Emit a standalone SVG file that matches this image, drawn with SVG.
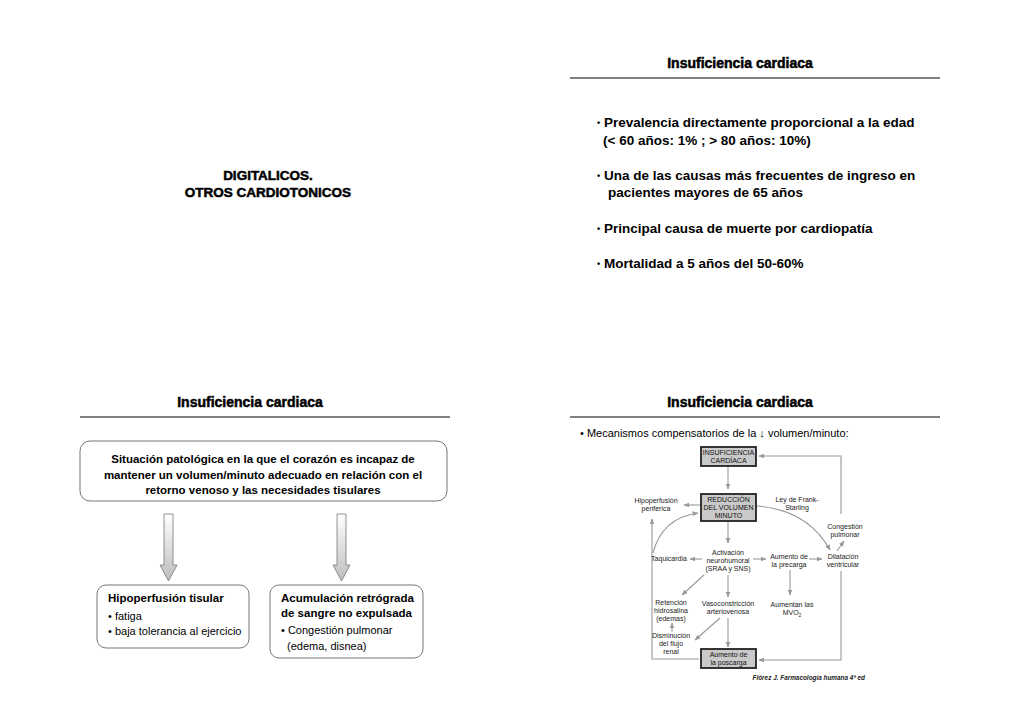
<svg xmlns="http://www.w3.org/2000/svg" width="1024" height="724" viewBox="0 0 1024 724">
<defs>
<style>
.hdr{font-family:"Liberation Sans",Arial,sans-serif;font-weight:bold;font-size:14px;fill:#000;stroke:#000;stroke-width:0.5;text-anchor:middle}
.rule{stroke:#000;stroke-width:1.2}
.bul{font-family:"Liberation Sans",Arial,sans-serif;font-weight:bold;font-size:13.5px;fill:#000}
.dot{font-size:9px}
.bx{font-family:"Liberation Sans",Arial,sans-serif;font-weight:bold;font-size:11.5px;fill:#000}
.bn{font-family:"Liberation Sans",Arial,sans-serif;font-size:11px;fill:#000}
.box{fill:#fff;stroke:#777;stroke-width:1}
.d{font-family:"Liberation Sans",Arial,sans-serif;font-size:7px;fill:#222;text-anchor:middle}
.db{font-family:"Liberation Sans",Arial,sans-serif;font-size:7px;fill:#111;text-anchor:middle}
.gbox{fill:#c9c9c9;stroke:#222;stroke-width:1.8}
.ln{fill:none;stroke:#999;stroke-width:1.1;marker-end:url(#ah)}
</style>
<marker id="ah" viewBox="0 0 10 10" refX="9" refY="5" markerWidth="6" markerHeight="6" orient="auto" markerUnits="userSpaceOnUse">
<path d="M0,1 L10,5 L0,9 Z" fill="#999"/>
</marker>
<linearGradient id="ag" x1="0" y1="0" x2="0" y2="1">
<stop offset="0" stop-color="#ffffff"/>
<stop offset="1" stop-color="#bdbdbd"/>
</linearGradient>
</defs>
<rect width="1024" height="724" fill="#fff"/>

<g id="title-slide">
<text class="hdr" x="268" y="180" style="font-size:13.5px">DIGITALICOS.</text>
<text class="hdr" x="268" y="197" style="font-size:13.5px">OTROS CARDIOTONICOS</text>
</g>

<g id="slide2">
<text class="hdr" x="740" y="68">Insuficiencia cardiaca</text>
<line class="rule" x1="570" y1="78" x2="940" y2="78"/>
<text class="bul" x="597" y="127"><tspan class="dot" dy="-1">•</tspan><tspan dy="1"> Prevalencia directamente proporcional a la edad</tspan></text>
<text class="bul" x="603" y="145">(&lt; 60 años: 1% ; &gt; 80 años: 10%)</text>
<text class="bul" x="597" y="180"><tspan class="dot" dy="-1">•</tspan><tspan dy="1"> Una de las causas más frecuentes de ingreso en</tspan></text>
<text class="bul" x="608" y="197">pacientes mayores de 65 años</text>
<text class="bul" x="597" y="233"><tspan class="dot" dy="-1">•</tspan><tspan dy="1"> Principal causa de muerte por cardiopatía</tspan></text>
<text class="bul" x="597" y="268"><tspan class="dot" dy="-1">•</tspan><tspan dy="1"> Mortalidad a 5 años del 50-60%</tspan></text>
</g>

<g id="slide3">
<text class="hdr" x="250" y="407">Insuficiencia cardiaca</text>
<line class="rule" x1="80" y1="417" x2="450" y2="417"/>
<g id="def-box">
<rect class="box" x="80" y="441" width="367" height="60" rx="10"/>
<text class="bx" x="263" y="463" text-anchor="middle">Situación patológica en la que el corazón es incapaz de</text>
<text class="bx" x="263" y="479" text-anchor="middle">mantener un volumen/minuto adecuado en relación con el</text>
<text class="bx" x="263" y="494" text-anchor="middle">retorno venoso y las necesidades tisulares</text>
</g>
<g id="arrows-left">
<path d="M164,514 H173 V565 H177 L168.5,581 L160,565 H164 Z" fill="url(#ag)" stroke="#777" stroke-width="0.8"/>
<path d="M337,514 H346 V565 H350 L341.5,581 L333,565 H337 Z" fill="url(#ag)" stroke="#777" stroke-width="0.8"/>
</g>
<g id="hipo-box">
<rect class="box" x="97" y="585" width="152" height="63" rx="9"/>
<text class="bx" x="108" y="602">Hipoperfusión tisular</text>
<text class="bn" x="108" y="620">• fatiga</text>
<text class="bn" x="108" y="635">• baja tolerancia al ejercicio</text>
</g>
<g id="acum-box">
<rect class="box" x="270" y="585" width="153" height="73" rx="9"/>
<text class="bx" x="281" y="602">Acumulación retrógrada</text>
<text class="bx" x="281" y="617">de sangre no expulsada</text>
<text class="bn" x="281" y="634">• Congestión pulmonar</text>
<text class="bn" x="287" y="650">(edema, disnea)</text>
</g>
</g>

<g id="slide4">
<text class="hdr" x="740" y="407">Insuficiencia cardiaca</text>
<line class="rule" x1="570" y1="417" x2="940" y2="417"/>
<text x="580" y="437" style="font-family:'Liberation Sans',Arial,sans-serif;font-size:11px;fill:#000">• Mecanismos compensatorios de la ↓ volumen/minuto:</text>

<g id="connectors">
<path class="ln" d="M728,467 V489"/>
<path class="ln" d="M700,505 H684"/>
<path class="ln" d="M841,514 V456 H759"/>
<path class="ln" d="M757,506 Q808,510 830,550"/>
<path class="ln" d="M728,521 V543"/>
<path class="ln" d="M702,559 H690"/>
<path class="ln" d="M753,559 H766"/>
<path class="ln" d="M809,559 H822"/>
<path class="ln" d="M837,551 L844,541"/>
<path class="ln" d="M790,570 V595"/>
<path class="ln" d="M704,575 L682,595"/>
<path class="ln" d="M728,575 V597"/>
<path class="ln" d="M672,632 V623"/>
<path class="ln" d="M720,618 L695,640"/>
<path class="ln" d="M728,618 V647"/>
<path class="ln" d="M841,571 V660 H759"/>
<path class="ln" d="M699,659 H652 V519"/>
<path class="ln" d="M653,553 Q662,518 698,513"/>
</g>

<g id="n-insuf">
<rect class="gbox" x="701" y="447" width="55" height="19"/>
<text class="db" x="728.5" y="455">INSUFICIENCIA</text>
<text class="db" x="728.5" y="463">CARDÍACA</text>
</g>
<g id="n-reduccion">
<rect class="gbox" x="701" y="494" width="55" height="27"/>
<text class="db" x="728.5" y="502">REDUCCIÓN</text>
<text class="db" x="728.5" y="510">DEL VOLUMEN</text>
<text class="db" x="728.5" y="518">MINUTO</text>
</g>
<g id="n-hipo">
<text class="d" x="656" y="503">Hipoperfusión</text>
<text class="d" x="656" y="511">periferica</text>
</g>
<g id="n-frank">
<text class="d" x="797" y="502">Ley de Frank-</text>
<text class="d" x="797" y="510">Starling</text>
</g>
<g id="n-congestion">
<text class="d" x="845" y="529">Congestión</text>
<text class="d" x="845" y="537">pulmonar</text>
</g>
<g id="n-activacion">
<text class="d" x="728" y="555">Activación</text>
<text class="d" x="728" y="563">neurohumoral</text>
<text class="d" x="728" y="571">(SRAA y SNS)</text>
</g>
<g id="n-taqui">
<text class="d" x="669" y="561">Taquicardia</text>
</g>
<g id="n-precarga">
<text class="d" x="789" y="559">Aumento de</text>
<text class="d" x="789" y="567">la precarga</text>
</g>
<g id="n-dilatacion">
<text class="d" x="843" y="559">Dilatación</text>
<text class="d" x="843" y="567">ventricular</text>
</g>
<g id="n-retencion">
<text class="d" x="671" y="605">Retención</text>
<text class="d" x="671" y="613">hidrosalina</text>
<text class="d" x="671" y="621">(edemas)</text>
</g>
<g id="n-vaso">
<text class="d" x="728" y="606">Vasoconstricción</text>
<text class="d" x="728" y="614">arteriovenosa</text>
</g>
<g id="n-mvo">
<text class="d" x="792" y="607">Aumentan las</text>
<text class="d" x="792" y="615">MVO<tspan font-size="5" dy="1.5">2</tspan></text>
</g>
<g id="n-disminucion">
<text class="d" x="671" y="638">Disminución</text>
<text class="d" x="671" y="646">del flujo</text>
<text class="d" x="671" y="654">renal</text>
</g>
<g id="n-poscarga">
<rect class="gbox" x="701" y="649" width="55" height="19"/>
<text class="db" x="728.5" y="657">Aumento de</text>
<text class="db" x="728.5" y="665">la poscarga</text>
</g>
<text x="865" y="680" text-anchor="end" style="font-family:'Liberation Sans',Arial,sans-serif;font-size:6.4px;font-weight:bold;font-style:italic;fill:#222">Flórez J. Farmacología humana 4ª ed</text>
</g>
</svg>
